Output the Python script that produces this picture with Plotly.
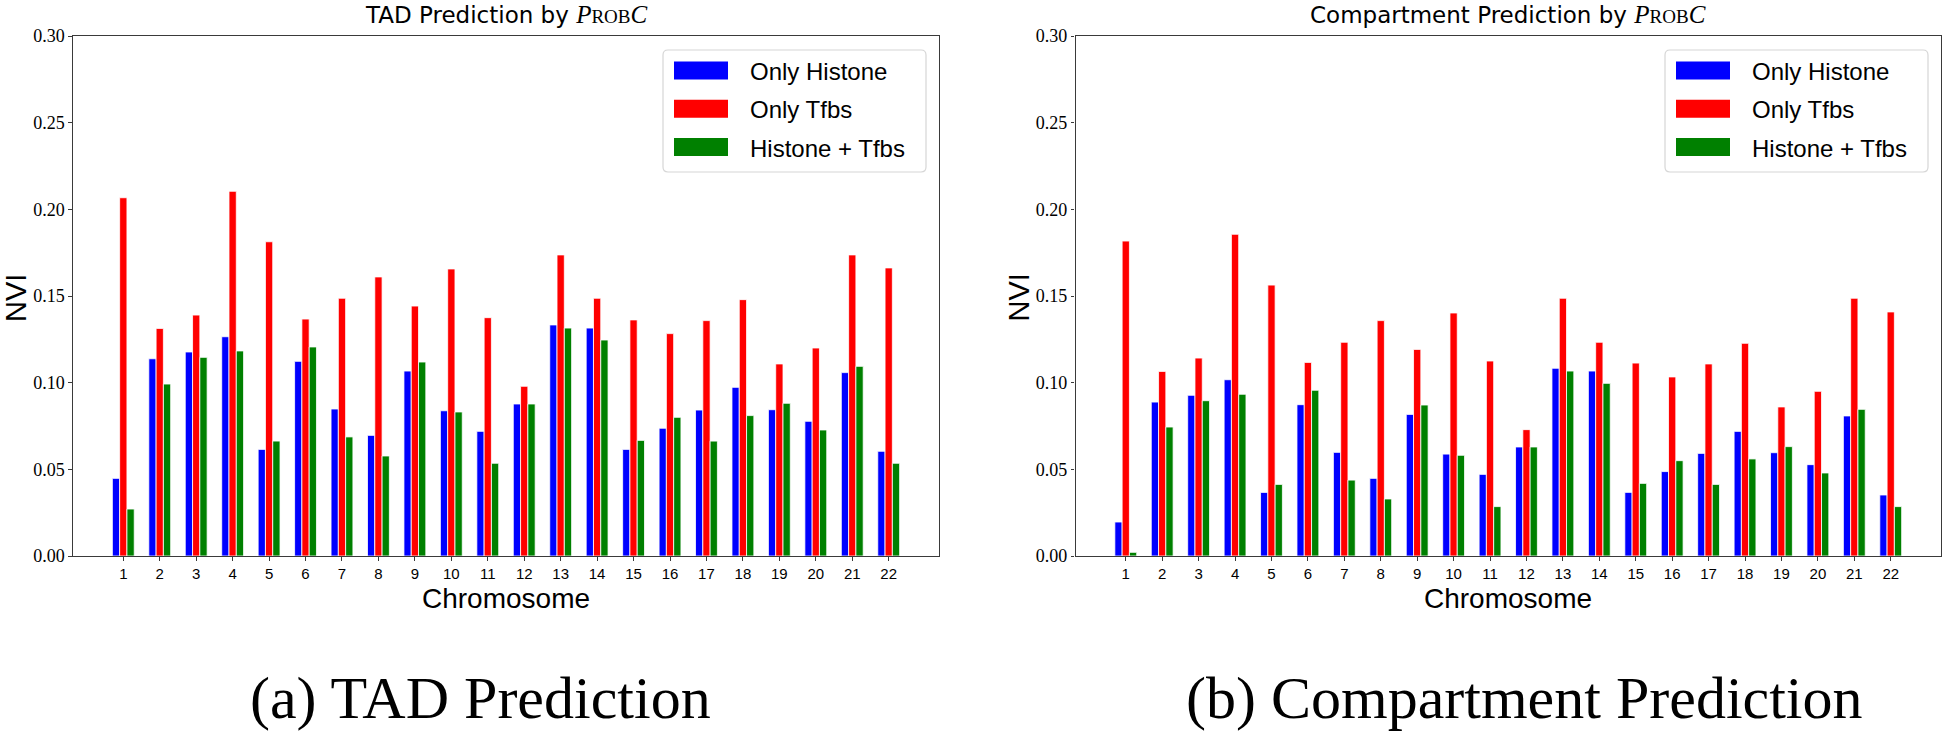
import plotly.graph_objects as go

# ---------------- data ----------------
chromosomes = [1, 2, 3, 4, 5, 6, 7, 8, 9, 10, 11, 12, 13, 14, 15, 16, 17, 18, 19, 20, 21, 22]
series_names = ["Only Histone", "Only Tfbs", "Histone + Tfbs"]

tad_histone = [0.0448, 0.1138, 0.1177, 0.1265, 0.0615, 0.1123, 0.0848, 0.0696, 0.1067, 0.0838, 0.0719,
               0.0877, 0.1333, 0.1315, 0.0615, 0.0737, 0.0842, 0.0973, 0.0844, 0.0777, 0.1058, 0.0604]
tad_tfbs = [0.2067, 0.1313, 0.1390, 0.2104, 0.1813, 0.1367, 0.1487, 0.1610, 0.1442, 0.1656, 0.1375,
            0.0979, 0.1737, 0.1487, 0.1362, 0.1283, 0.1358, 0.1479, 0.1108, 0.1200, 0.1737, 0.1662]
tad_both = [0.0271, 0.0992, 0.1146, 0.1183, 0.0663, 0.1206, 0.0687, 0.0577, 0.1119, 0.0831, 0.0535,
            0.0877, 0.1315, 0.1246, 0.0667, 0.0800, 0.0663, 0.0810, 0.0881, 0.0727, 0.1094, 0.0535]

comp_histone = [0.0196, 0.0888, 0.0927, 0.1017, 0.0367, 0.0873, 0.0598, 0.0448, 0.0817, 0.0588, 0.0471,
                0.0629, 0.1083, 0.1067, 0.0367, 0.0487, 0.0592, 0.0719, 0.0596, 0.0527, 0.0808, 0.0352]
comp_tfbs = [0.1817, 0.1065, 0.1142, 0.1856, 0.1563, 0.1117, 0.1233, 0.1358, 0.1192, 0.1402, 0.1125,
             0.0729, 0.1487, 0.1233, 0.1113, 0.1033, 0.1108, 0.1227, 0.0860, 0.0950, 0.1487, 0.1408]
comp_both = [0.0021, 0.0744, 0.0896, 0.0933, 0.0413, 0.0956, 0.0438, 0.0329, 0.0871, 0.0581, 0.0285,
             0.0629, 0.1067, 0.0996, 0.0419, 0.0550, 0.0413, 0.0560, 0.0631, 0.0479, 0.0846, 0.0285]

y_ticks = [0.00, 0.05, 0.10, 0.15, 0.20, 0.25, 0.30]
colors = ["#0000ff", "#ff0000", "#008000"]

# ---------------- layout helpers ----------------
W, H = 1943, 733
def px(x):
    return x / W
def py(y):
    return 1 - y / H

AX_TOP, AX_BOT = 36, 556
panels = [
    dict(left=73, right=939, xa="x", ya="y", cap_x=480,
         data=[tad_histone, tad_tfbs, tad_both],
         title="TAD Prediction by ", caption="(a) TAD Prediction"),
    dict(left=1075.5, right=1941, xa="x2", ya="y2", cap_x=1524,
         data=[comp_histone, comp_tfbs, comp_both],
         title="Compartment Prediction by ", caption="(b) Compartment Prediction"),
]

fig = go.Figure()
annotations = []
shapes = []
AXCOL = "#3a3a3a"

for i, p in enumerate(panels):
    for name, vals, col in zip(series_names, p["data"], colors):
        fig.add_trace(go.Bar(
            x=chromosomes, y=vals, name=name, xaxis=p["xa"], yaxis=p["ya"],
            marker=dict(color=col, line=dict(color="white", width=0.8)),
            showlegend=False, offsetgroup=name,
        ))
    cx = (p["left"] + p["right"]) / 2
    # title
    annotations.append(dict(
        x=px(cx), y=py(14.5), xref="paper", yref="paper", xanchor="center", yanchor="middle",
        showarrow=False,
        text=p["title"] + "<span style=\"font-family:'Liberation Serif';font-size:25px\"><i>P</i>"
             "<span style=\"font-size:19px\">ROB</span><i>C</i></span>",
        font=dict(family="DejaVu Sans", size=23, color="black"),
    ))
    # x axis title
    annotations.append(dict(
        x=px(cx), y=py(598.5), xref="paper", yref="paper", xanchor="center", yanchor="middle",
        showarrow=False, text="Chromosome",
        font=dict(family="Liberation Sans", size=28, color="black"),
    ))
    # y axis title
    annotations.append(dict(
        x=px(p["left"] - 57), y=py(298), xref="paper", yref="paper", xanchor="center", yanchor="middle",
        showarrow=False, text="NVI", textangle=-90,
        font=dict(family="Liberation Sans", size=29, color="black"),
    ))
    # caption
    annotations.append(dict(
        x=px(p["cap_x"]), y=py(698), xref="paper", yref="paper", xanchor="center", yanchor="middle",
        showarrow=False, text=p["caption"],
        font=dict(family="Liberation Serif", size=60, color="black"),
    ))
    # custom legend (matplotlib-style)
    lx0, lx1, ly0, ly1 = p["right"] - 276, p["right"] - 13, 50, 172
    r = 5
    path = (f"M {px(lx0 + r)},{py(ly0)} L {px(lx1 - r)},{py(ly0)} "
            f"Q {px(lx1)},{py(ly0)} {px(lx1)},{py(ly0 + r)} "
            f"L {px(lx1)},{py(ly1 - r)} Q {px(lx1)},{py(ly1)} {px(lx1 - r)},{py(ly1)} "
            f"L {px(lx0 + r)},{py(ly1)} Q {px(lx0)},{py(ly1)} {px(lx0)},{py(ly1 - r)} "
            f"L {px(lx0)},{py(ly0 + r)} Q {px(lx0)},{py(ly0)} {px(lx0 + r)},{py(ly0)} Z")
    shapes.append(dict(type="path", xref="paper", yref="paper", path=path,
                       line=dict(color="#d6d6d6", width=1.2), fillcolor="rgba(255,255,255,0.8)"))
    for k, (name, col) in enumerate(zip(series_names, colors)):
        yc = 70.5 + k * 38.3
        shapes.append(dict(type="rect", xref="paper", yref="paper",
                           x0=px(lx0 + 11), x1=px(lx0 + 65), y0=py(yc - 9), y1=py(yc + 9),
                           fillcolor=col, line=dict(width=0)))
        annotations.append(dict(
            x=px(lx0 + 85), y=py(yc + 1), xref="paper", yref="paper", xanchor="left", yanchor="middle",
            showarrow=False, text=name,
            font=dict(family="Liberation Sans", size=24, color="black"),
        ))

axis_common = dict(showline=True, linecolor=AXCOL, linewidth=1.2, mirror=True,
                   ticks="outside", ticklen=3.5, tickwidth=1, tickcolor=AXCOL,
                   showgrid=False, zeroline=False, automargin=False)

for i, p in enumerate(panels):
    sfx = "" if i == 0 else str(i + 1)
    fig.update_layout(**{
        "xaxis" + sfx: dict(axis_common, domain=[px(p["left"]), px(p["right"])],
                            range=[-0.38, 23.38], tickmode="array", tickvals=chromosomes,
                            ticktext=[str(c) for c in chromosomes], anchor="y" + sfx,
                            tickfont=dict(family="Liberation Sans", size=15, color="black")),
        "yaxis" + sfx: dict(axis_common, domain=[py(AX_BOT), py(AX_TOP)], range=[0, 0.30],
                            tickmode="array", tickvals=y_ticks,
                            ticktext=[f"{v:.2f}" for v in y_ticks], anchor="x" + sfx,
                            tickfont=dict(family="Liberation Serif", size=18, color="black")),
    })

fig.update_layout(
    width=W, height=H, autosize=False,
    margin=dict(l=0, r=0, t=0, b=0, pad=0, autoexpand=False),
    paper_bgcolor="white", plot_bgcolor="white",
    barmode="group", bargap=0.4, bargroupgap=0,
    annotations=annotations, shapes=shapes, showlegend=False,
)

fig.write_html("out.html", config={"displayModeBar": False},
               post_script="document.body.style.margin='0';")
